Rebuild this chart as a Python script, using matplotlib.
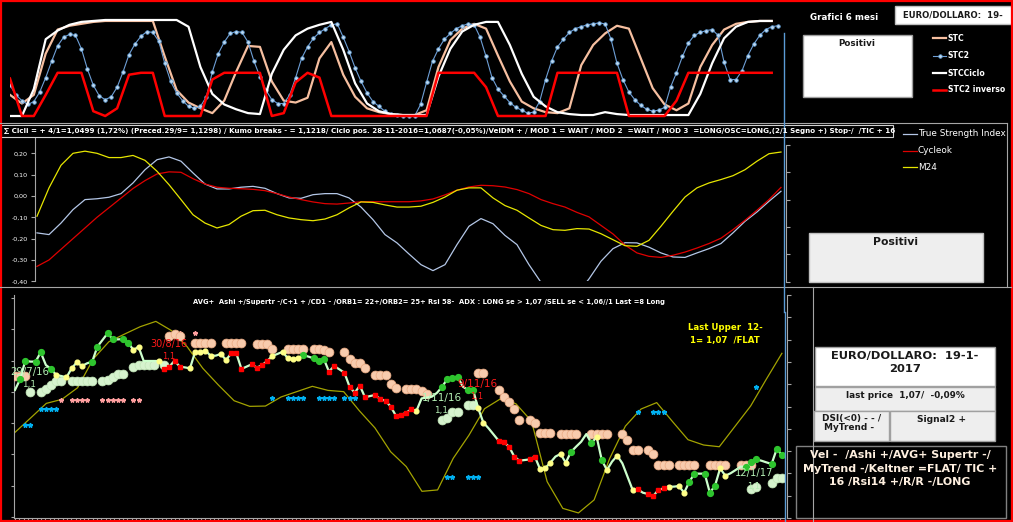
import numpy as np
import matplotlib.pyplot as plt
from matplotlib.patches import Rectangle
from matplotlib.ticker import MultipleLocator, FixedLocator, NullFormatter, FixedFormatter

plt.rcParams['font.family'] = 'DejaVu Sans'

W, H = 1013, 522

# ---- top panel: STC oscillators (0-100), one value per trading day
stc2 = [32, 22, 16, 12, 15, 25, 40, 57, 73, 82,
        85, 84, 70, 49, 32, 21, 17, 20, 30, 46,
        64, 75, 83, 88, 87, 78, 55, 36, 24, 16,
        10, 8, 10, 20, 46, 65, 77, 86, 88, 87,
        77, 57, 41, 27, 17, 13, 13, 22, 40, 60,
        72, 81, 87, 91, 95, 96, 82, 67, 50, 36,
        24, 15, 10, 5, 2, 1, 0.5, 0, 0, 12,
        35, 57, 70, 80, 86, 91, 94, 96, 95, 82,
        62, 40, 28, 21, 14, 9, 6, 3, 4, 15,
        38, 57, 72, 80, 87, 91, 93, 95, 96, 97,
        96, 80, 55, 38, 25, 17, 11, 7, 5, 6,
        9, 30, 45, 62, 76, 84, 87, 89, 90, 84,
        56, 38, 38, 47, 63, 75, 84, 90, 93, 94]

# the three smooth lines are read every second day
stc = [22, 13, 22, 65, 90, 94, 96, 98, 99, 99,
       99, 99, 99, 62, 27, 14, 8, 3, 16, 46,
       73, 72, 36, 16, 14, 19, 60, 77, 43, 20,
       8, 4, 2, 1, 1, 6, 51, 79, 91, 96,
       91, 63, 36, 15, 8, 4, 3, 8, 53, 74,
       86, 94, 91, 60, 29, 12, 6, 13, 51, 74,
       90, 96, 98, 99, 99]
stc_ciclo = [0, 0, 28, 80, 89, 95, 98, 99, 100, 100,
             100, 100, 100, 100, 100, 93, 51, 23, 12, 7,
             3, 2, 44, 69, 84, 91, 95, 98, 69, 34,
             13, 5, 2, 1, 1, 1, 41, 70, 88, 95,
             98, 98, 74, 44, 20, 10, 4, 2, 1, 1,
             4, 2, 1, 1, 1, 1, 1, 1, 23, 55,
             81, 93, 98, 99, 99]
stc2_inverso = [39, 0, 0, 22, 45, 45, 45, 5, 0, 8,
                43, 45, 45, 0, 0, 0, 0, 38, 45, 45,
                45, 45, 0, 3, 35, 45, 40, 0, 0, 0,
                0, 0, 0, 0, 0, 0, 45, 45, 45, 45,
                30, 0, 0, 0, 0, 0, 45, 45, 45, 45,
                45, 45, 0, 0, 0, 0, 16, 45, 45, 45,
                45, 45, 45, 45, 45]

# ---- middle panel: oscillators
tsi = [-0.173, -0.181, -0.127, -0.064, -0.017, -0.013, -0.006, 0.011, 0.061, 0.123,
       0.170, 0.183, 0.163, 0.108, 0.056, 0.033, 0.033, 0.041, 0.045, 0.036,
       0.011, -0.009, -0.011, 0.006, 0.011, 0.011, -0.009, -0.052, -0.111, -0.181,
       -0.220, -0.272, -0.322, -0.350, -0.322, -0.228, -0.142, -0.106, -0.130, -0.185,
       -0.228, -0.322, -0.405, -0.460, -0.500, -0.460, -0.389, -0.306, -0.247, -0.219,
       -0.220, -0.240, -0.267, -0.286, -0.288, -0.267, -0.247, -0.223, -0.173, -0.119,
       -0.075, -0.025, 0.022]
cycleok = [-0.330, -0.300, -0.250, -0.200, -0.150, -0.100, -0.055, -0.010, 0.035, 0.072,
           0.103, 0.113, 0.111, 0.081, 0.056, 0.041, 0.036, 0.034, 0.031, 0.025,
           0.011, -0.005, -0.017, -0.028, -0.036, -0.038, -0.033, -0.027, -0.027, -0.027,
           -0.027, -0.027, -0.023, -0.014, 0.005, 0.027, 0.042, 0.050, 0.048, 0.042,
           0.030, 0.011, -0.017, -0.036, -0.052, -0.077, -0.098, -0.138, -0.178, -0.230,
           -0.267, -0.283, -0.288, -0.278, -0.263, -0.244, -0.223, -0.198, -0.158, -0.114,
           -0.067, -0.017, 0.040]
m24 = [-0.095, 0.038, 0.144, 0.200, 0.210, 0.200, 0.180, 0.180, 0.190, 0.167,
       0.116, 0.053, -0.017, -0.088, -0.127, -0.150, -0.134, -0.095, -0.069, -0.067,
       -0.088, -0.103, -0.111, -0.116, -0.108, -0.088, -0.056, -0.028, -0.030, -0.042,
       -0.052, -0.052, -0.048, -0.030, -0.005, 0.027, 0.038, 0.038, -0.009, -0.045,
       -0.067, -0.103, -0.138, -0.158, -0.161, -0.153, -0.155, -0.177, -0.205, -0.233,
       -0.236, -0.208, -0.142, -0.072, -0.005, 0.038, 0.061, 0.077, 0.095, 0.123,
       0.163, 0.198, 0.206]
osc_ticks = [0.20, 0.10, 0.00, -0.10, -0.20, -0.30, -0.40]
osc_labels = ['0,20', '0,10', '0,00', '-0,10', '-0,20', '-0,30', '-0,40']

# ---- bottom panel: EUR/USD daily closes
price = [1.1112, 1.1180, 1.1299, 1.1293, 1.1293, 1.1352, 1.1271, 1.1246, 1.1207, 1.1201,
         1.1192, 1.1250, 1.1288, 1.1265, 1.1282, 1.1293, 1.1388, 1.1431, 1.1474, 1.1435,
         1.1435, 1.1437, 1.1414, 1.1367, 1.1388, 1.1297, 1.1297, 1.1297, 1.1297, 1.1246,
         1.1261, 1.1299, 1.1261, 1.1256, 1.1250, 1.1356, 1.1352, 1.1363, 1.1331, 1.1331,
         1.1342, 1.1303, 1.1346, 1.1346, 1.1246, 1.1261, 1.1276, 1.1254, 1.1271, 1.1297,
         1.1329, 1.1342, 1.1356, 1.1314, 1.1310, 1.1314, 1.1335, 1.1325, 1.1314, 1.1297,
         1.1310, 1.1229, 1.1265, 1.1244, 1.1222, 1.1133, 1.1094, 1.1139, 1.1065, 1.1073,
         1.1080, 1.1052, 1.1043, 1.1005, 1.0948, 1.0952, 1.0967, 1.0988, 1.0979, 1.1058,
         1.1063, 1.1069, 1.1094, 1.1133, 1.1182, 1.1186, 1.1197, 1.1133, 1.1112, 1.1112,
         1.0994, 1.0903, 1.0867, 1.0826, 1.0786, 1.0777, 1.0749, 1.0686, 1.0660, 1.0664,
         1.0668, 1.0686, 1.0607, 1.0611, 1.0647, 1.0686, 1.0703, 1.0647, 1.0715, 1.0749,
         1.0781, 1.0830, 1.0771, 1.0813, 1.0664, 1.0600, 1.0654, 1.0692, 1.0643, 1.0558,
         1.0473, 1.0477, 1.0455, 1.0447, 1.0434, 1.0473, 1.0483, 1.0494, 1.0494, 1.0498,
         1.0455, 1.0524, 1.0577, 1.0577, 1.0577, 1.0455, 1.0500, 1.0611, 1.0564, 1.0579,
         1.0600, 1.0622, 1.0622, 1.0649, 1.0668, 1.0660, 1.0649, 1.0639, 1.0735, 1.0696]
# daily signal colour: g = green, y = yellow, r = red, n = none
signal = ("nggnggngyn" "yyyynggngg" "nggyynnnyr" "rrrnyyyyyn" "yyrrrnrrrr"
          "ynyyyygngg" "grrnrrrrrn" "rrrrrrrryn" "nnnggggngg" "yynnrrrrrn"
          "rryyynyygn" "nngygynynn" "yrnrrrryny" "yggngggyyn" "nngggnnggg")

# upper band, read every third day
upper_band = [1.0841, 1.0933, 1.1026, 1.1052, 1.1126, 1.1310, 1.1420, 1.1469, 1.1516, 1.1550,
              1.1491, 1.1388, 1.1250, 1.1143, 1.1043, 1.1007, 1.1009, 1.1067, 1.1101, 1.1135,
              1.1109, 1.1101, 1.0979, 1.0869, 1.0717, 1.0622, 1.0464, 1.0473, 1.0675, 1.0822,
              1.0992, 1.1054, 1.1024, 1.0913, 1.0526, 1.0355, 1.0326, 1.0409, 1.0675, 1.0881,
              1.0990, 1.1031, 1.0911, 1.0794, 1.0760, 1.0749, 1.0879, 1.1009, 1.1180, 1.1346]

stop_up_day = [0, 1, 2, 30, 31, 32, 35, 36, 37, 38, 41, 42, 43, 44, 47, 48, 49, 50, 53, 54,
               55, 56, 58, 59, 60, 61, 64, 65, 66, 67, 68, 70, 71, 72, 73, 74, 76, 77, 78, 79,
               80, 90, 91, 94, 95, 96, 97, 98, 100, 101, 102, 103, 104, 106, 107, 108, 109, 112, 113, 114,
               115, 118, 119, 120, 121, 123, 124, 125, 126, 127, 129, 130, 131, 132, 135, 136, 137, 138, 141, 142,
               143]
stop_up = [1.1201, 1.1201, 1.1201, 1.1457, 1.1470, 1.1457, 1.1410, 1.1410, 1.1410, 1.1410,
           1.1410, 1.1410, 1.1410, 1.1410, 1.1405, 1.1405, 1.1405, 1.1374, 1.1374, 1.1374,
           1.1374, 1.1374, 1.1374, 1.1374, 1.1367, 1.1356, 1.1352, 1.1310, 1.1282, 1.1282,
           1.1254, 1.1207, 1.1207, 1.1207, 1.1150, 1.1126, 1.1118, 1.1118, 1.1118, 1.1105,
           1.1086, 1.1218, 1.1218, 1.1112, 1.1069, 1.1037, 1.0990, 1.0920, 1.0920, 1.0899,
           1.0839, 1.0839, 1.0839, 1.0830, 1.0830, 1.0830, 1.0830, 1.0830, 1.0830, 1.0830,
           1.0830, 1.0830, 1.0792, 1.0728, 1.0728, 1.0728, 1.0703, 1.0634, 1.0634, 1.0634,
           1.0634, 1.0634, 1.0634, 1.0634, 1.0634, 1.0634, 1.0634, 1.0634, 1.0634, 1.0634,
           1.0634]

stop_dn_day = [3, 5, 6, 7, 8, 9, 11, 12, 13, 14, 15, 17, 18, 19, 20, 21, 23, 24, 25, 26,
               27, 29, 83, 84, 85, 86, 88, 89, 143, 144, 147, 148, 149]
stop_dn = [1.1101, 1.1101, 1.1116, 1.1143, 1.1171, 1.1171, 1.1171, 1.1171, 1.1171, 1.1171,
           1.1171, 1.1171, 1.1175, 1.1192, 1.1214, 1.1214, 1.1261, 1.1269, 1.1269, 1.1269,
           1.1269, 1.1269, 1.0920, 1.0935, 1.0973, 1.0973, 1.1016, 1.1016, 1.0477, 1.0490,
           1.0515, 1.0547, 1.0547]

blue_day = [2, 3, 5, 6, 7, 8, 50, 53, 54, 55, 56, 59, 60, 61, 62, 64, 65, 66, 84, 85,
            88, 89, 90, 121, 124, 125, 126, 144]
blue_val = [1.0888, 1.0888, 1.0990, 1.0990, 1.0990, 1.0990, 1.1058, 1.1058, 1.1058, 1.1058,
            1.1058, 1.1058, 1.1058, 1.1058, 1.1058, 1.1058, 1.1058, 1.1058, 1.0553, 1.0553,
            1.0553, 1.0553, 1.0553, 1.0969, 1.0969, 1.0969, 1.0969, 1.1129]

pink_day = [9, 11, 12, 13, 14, 17, 18, 19, 20, 21, 23, 24, 31, 32, 35]
pink_val = [1.1048, 1.1048, 1.1048, 1.1048, 1.1048, 1.1048, 1.1048, 1.1048, 1.1048, 1.1048,
            1.1048, 1.1048, 1.1478, 1.1478, 1.1478]


fig = plt.figure(figsize=(W / 100, H / 100), dpi=100, facecolor='black')
renderer = fig.canvas.get_renderer()
GREY = '#A6A6A6'


def px_axes(x0, y0, x1, y1, **kw):
    ax = fig.add_axes([x0 / W, 1 - y1 / H, (x1 - x0) / W, (y1 - y0) / H], **kw)
    ax.set_facecolor('none')
    return ax


def side_axis(ax, n):
    # bare vertical scale with ticks pointing right
    for s in ('top', 'right', 'bottom'):
        ax.spines[s].set_visible(False)
    ax.spines['left'].set_color(GREY)
    ax.set_xticks([])
    ax.set_ylim(0, n)
    ax.set_yticks(range(n + 1))
    ax.yaxis.set_major_formatter(NullFormatter())
    ax.tick_params(axis='y', direction='in', length=3, color=GREY)


# top panel
ax1 = px_axes(10, 8, 783, 120)
ax1.axis('off')
ax1.set_xlim(0, 129.9)
ax1.set_ylim(-4.17, 112.5)
half = np.arange(0, 129, 2)
ax1.plot(half, stc, color='#F6BFA0', lw=1.6)
ax1.plot(np.arange(len(stc2)), stc2, color='#6E9FD6', lw=0.8, marker='o', ms=2.6,
         mfc='#BDD7EE', mec='#5B9BD5', mew=0.5)
ax1.plot(half, stc_ciclo, color='white', lw=1.6)
ax1.plot(half, stc2_inverso, color='#FF0000', lw=1.8)

# middle panel
ax2 = px_axes(35, 135, 783, 281.3)
ax2.set_xlim(-0.167, 62.17)
ax2.set_ylim(-0.40, 0.2858)
days_m = np.arange(len(tsi))
ax2.plot(days_m, tsi, color='#B4C7E7', lw=0.9)
ax2.plot(days_m, cycleok, color='#E00000', lw=0.9)
ax2.plot(days_m, m24, color='#E6E600', lw=0.9)
for s in ('top', 'right', 'bottom'):
    ax2.spines[s].set_visible(False)
ax2.spines['left'].set_color(GREY)
ax2.set_xticks([])
ax2.yaxis.set_major_locator(FixedLocator(osc_ticks))
ax2.yaxis.set_major_formatter(FixedFormatter(osc_labels))
ax2.tick_params(axis='y', length=3, color=GREY, labelcolor='white', labelsize=4.6, pad=2)

side_axis(px_axes(786, 145, 790, 281.7), 5)

# bottom panel
ax3 = px_axes(14, 295, 785, 518)
ax3.set_xlim(-0.194, 149.6)
ax3.set_ylim(1.02936, 1.17186)
days = np.arange(len(price))
ax3.plot(np.linspace(0, 149, len(upper_band)), upper_band, color='#A3A300', lw=0.9, zorder=1)
ax3.plot(pink_day, pink_val, ls='none', marker='*', ms=3.2, color='#FF9F9F', zorder=2)
ax3.plot(blue_day, blue_val, ls='none', marker='*', ms=3.4, color='#00B0F0', zorder=2)
ax3.plot(stop_up_day, stop_up, ls='none', marker='o', ms=6.4, mfc='#F8CBAD', mec='#E9A982',
         mew=0.5, zorder=3)
ax3.plot(stop_dn_day, stop_dn, ls='none', marker='o', ms=6.4, mfc='#D6F3CE', mec='#C2E6B8',
         mew=0.5, zorder=3)
ax3.plot(days, price, color='#CCFFCC', lw=1.6, zorder=4)
price_arr = np.array(price)
for code, color, marker, size in [('g', '#2EC42E', 'o', 4.2), ('y', '#FFFF88', 'o', 3.4),
                                  ('r', '#FF0000', 's', 3.5)]:
    sel = [i for i, c in enumerate(signal) if c == code]
    ax3.plot(days[sel], price_arr[sel], ls='none', marker=marker, ms=size, color=color, zorder=5)
for s in ('top', 'right'):
    ax3.spines[s].set_visible(False)
ax3.spines['left'].set_color(GREY)
ax3.spines['bottom'].set_color(GREY)
ax3.set_yticks(np.arange(1.03, 1.175, 0.02))
ax3.xaxis.set_major_locator(MultipleLocator(0.84))
ax3.xaxis.set_major_formatter(NullFormatter())
ax3.yaxis.set_major_formatter(NullFormatter())
ax3.tick_params(length=2.5, color=GREY)

side_axis(px_axes(787, 295, 791, 518), 10)

# overlay in pixel coordinates for frames, boxes and texts
ov = fig.add_axes([0, 0, 1, 1], zorder=10)
ov.set_xlim(0, W)
ov.set_ylim(H, 0)
ov.axis('off')
ov.patch.set_alpha(0)


def label(x, y, s, width=None, size=6, ha='left', **kw):
    kw.setdefault('color', 'white')
    t = ov.text(x, y, s, fontsize=size, ha=ha, va='center', **kw)
    if width:
        w = t.get_window_extent(renderer).width
        t.set_fontsize(size * width / w)
    return t


def box(x0, y0, x1, y1, fc='white', ec='#BFBFBF', lw=1):
    ov.add_patch(Rectangle((x0, y0), x1 - x0, y1 - y0, facecolor=fc, edgecolor=ec, lw=lw))


# separators and frames
ov.plot([0, 1007], [123.3, 123.3], color=GREY, lw=0.8)
ov.plot([1007, 1007], [123.3, 286.7], color=GREY, lw=0.8)
ov.plot([0, 1011], [286.7, 286.7], color=GREY, lw=0.8)
ov.plot([812.5, 812.5], [287, 521], color=GREY, lw=0.8)
ov.plot([783.5, 783.5], [33, 312], color='#5B9BD5', lw=1)
ov.plot([785, 785], [312, 521], color='#5B9BD5', lw=1)

# top panel header and legend
label(810, 18, 'Grafici 6 mesi', width=69, weight='bold')
box(895, 6, 1013, 24)
label(903, 15, 'EURO/DOLLARO:  19-', width=100, weight='bold', color='#1A1A1A')
box(803, 35, 912, 97, ec='#A0A0A0')
label(857, 43, 'Positivi', width=37, ha='center', weight='bold', color='#1A1A1A')

top_keys = [('STC', dict(color='#F6BFA0', lw=1.6)),
            ('STC2', dict(color='#6E9FD6', lw=0.8)),
            ('STCCiclo', dict(color='white', lw=1.6)),
            ('STC2 inverso', dict(color='#FF0000', lw=1.8))]
t = label(948, 90, 'STC2 inverso', width=58, weight='bold')
fs = t.get_fontsize()
for (name, style), y in zip(top_keys, [38.3, 56, 73, 90]):
    ov.plot([933, 946], [y, y], **style)
    if name != 'STC2 inverso':
        label(948, y, name, size=fs, weight='bold')
ov.plot([939.5], [56], marker='o', ms=2.6, mfc='#BDD7EE', mec='#5B9BD5', mew=0.5)

# middle panel header and legend
box(1, 125.3, 893, 136.5, fc='black', ec='#D0D0D0', lw=0.8)
label(4, 131, '\u2211 Cicli = + 4/1=1,0499 (1,72%) (Preced.29/9= 1,1298) / Kumo breaks - = 1,1218/ '
      'Ciclo pos. 28-11-2016=1,0687(-0,05%)/VelDM + / MOD 1 = WAIT / MOD 2  =WAIT / MOD 3  '
      '=LONG/OSC=LONG,(2/1 Segno +) Stop-/  /TIC + 16', width=885, weight='bold')
t = label(918, 134, 'True Strength Index', width=89)
fs = t.get_fontsize()
for name, color, y in [('True Strength Index', '#B4C7E7', 134), ('Cycleok', '#E00000', 150.7),
                       ('M24', '#E6E600', 167.3)]:
    ov.plot([903, 917], [y, y], color=color, lw=0.9)
    if y != 134:
        label(918, y, name, size=fs)
box(809, 233, 983, 282, fc='#EEEEEE')
label(896, 242, 'Positivi', width=46, ha='center', weight='bold', color='#1A1A1A')

# bottom panel texts
label(193, 302, 'AVG+  Ashi +/Supertr -/C+1 + /CD1 - /ORB1= 22+/ORB2= 25+ Rsi 58-  ADX : LONG '
      'se > 1,07 /SELL se < 1,06//1 Last =8 Long', width=471, weight='bold')
t = label(725, 328, 'Last Upper  12-', width=75, ha='center', weight='bold', color='#FFFF00')
label(725, 341, '1= 1,07  /FLAT', size=t.get_fontsize(), ha='center', weight='bold', color='#FFFF00')

PALE, RED = '#B4F0B4', '#FF1A1A'
for x, y, s, w, c in [(10, 372, '29/7/16', 39, PALE), (22, 385, '1,1', 14, PALE),
                      (150, 344, '30/8/16', 38, RED), (162, 357, '1,1', 13, RED),
                      (422, 397.5, '1/11/16', 40, PALE), (434, 410.5, '1,1', 14, PALE),
                      (457, 384, '9/11/16', 40, RED), (470, 397, '1,1', 13, RED),
                      (735, 473, '12/1/17', 38, PALE), (747, 486, '1,1', 13, PALE)]:
    label(x, y, s, width=w, color=c)

# bottom right boxes
box(815, 347, 995, 386, ec='#A0A0A0')
t = label(905, 356, 'EURO/DOLLARO:  19-1-', width=148, ha='center', weight='bold', color='#1A1A1A')
label(905, 369.5, '2017', size=t.get_fontsize(), ha='center', weight='bold', color='#1A1A1A')
box(815, 387, 995, 411, fc='#EEEEEE', ec='#A0A0A0')
label(905, 395, 'last price  1,07/  -0,09%', width=120, ha='center', weight='bold', color='#1A1A1A')
box(814, 411, 889, 441, fc='#EEEEEE', ec='#A0A0A0')
t = label(852, 418, 'DSI(<0) - - /', width=59, ha='center', weight='bold', color='#1A1A1A')
label(849, 427, 'MyTrend -', size=t.get_fontsize(), ha='center', weight='bold', color='#1A1A1A')
box(890, 411, 995, 441, fc='#EEEEEE', ec='#A0A0A0')
label(942, 420, 'Signal2 +', width=50, ha='center', weight='bold', color='#1A1A1A')
box(796, 446, 1006, 518, fc='black', ec='#808080')
t = label(900, 468.5, 'MyTrend -/Keltner =FLAT/ TIC +', width=196, ha='center', weight='bold',
          color='#FFF0E0')
label(900, 455, 'Vel -  /Ashi +/AVG+ Supertr -/', size=t.get_fontsize(), ha='center',
      weight='bold', color='#FFF0E0')
label(900, 481.5, '16 /Rsi14 +/R/R -/LONG', size=t.get_fontsize(), ha='center',
      weight='bold', color='#FFF0E0')

# outer red frame
ov.add_patch(Rectangle((0.8, 0.8), W - 2.2, H - 2.2, fill=False, edgecolor='#FF0000', lw=1.6))

fig.savefig('out.png', dpi=100, facecolor='black')
